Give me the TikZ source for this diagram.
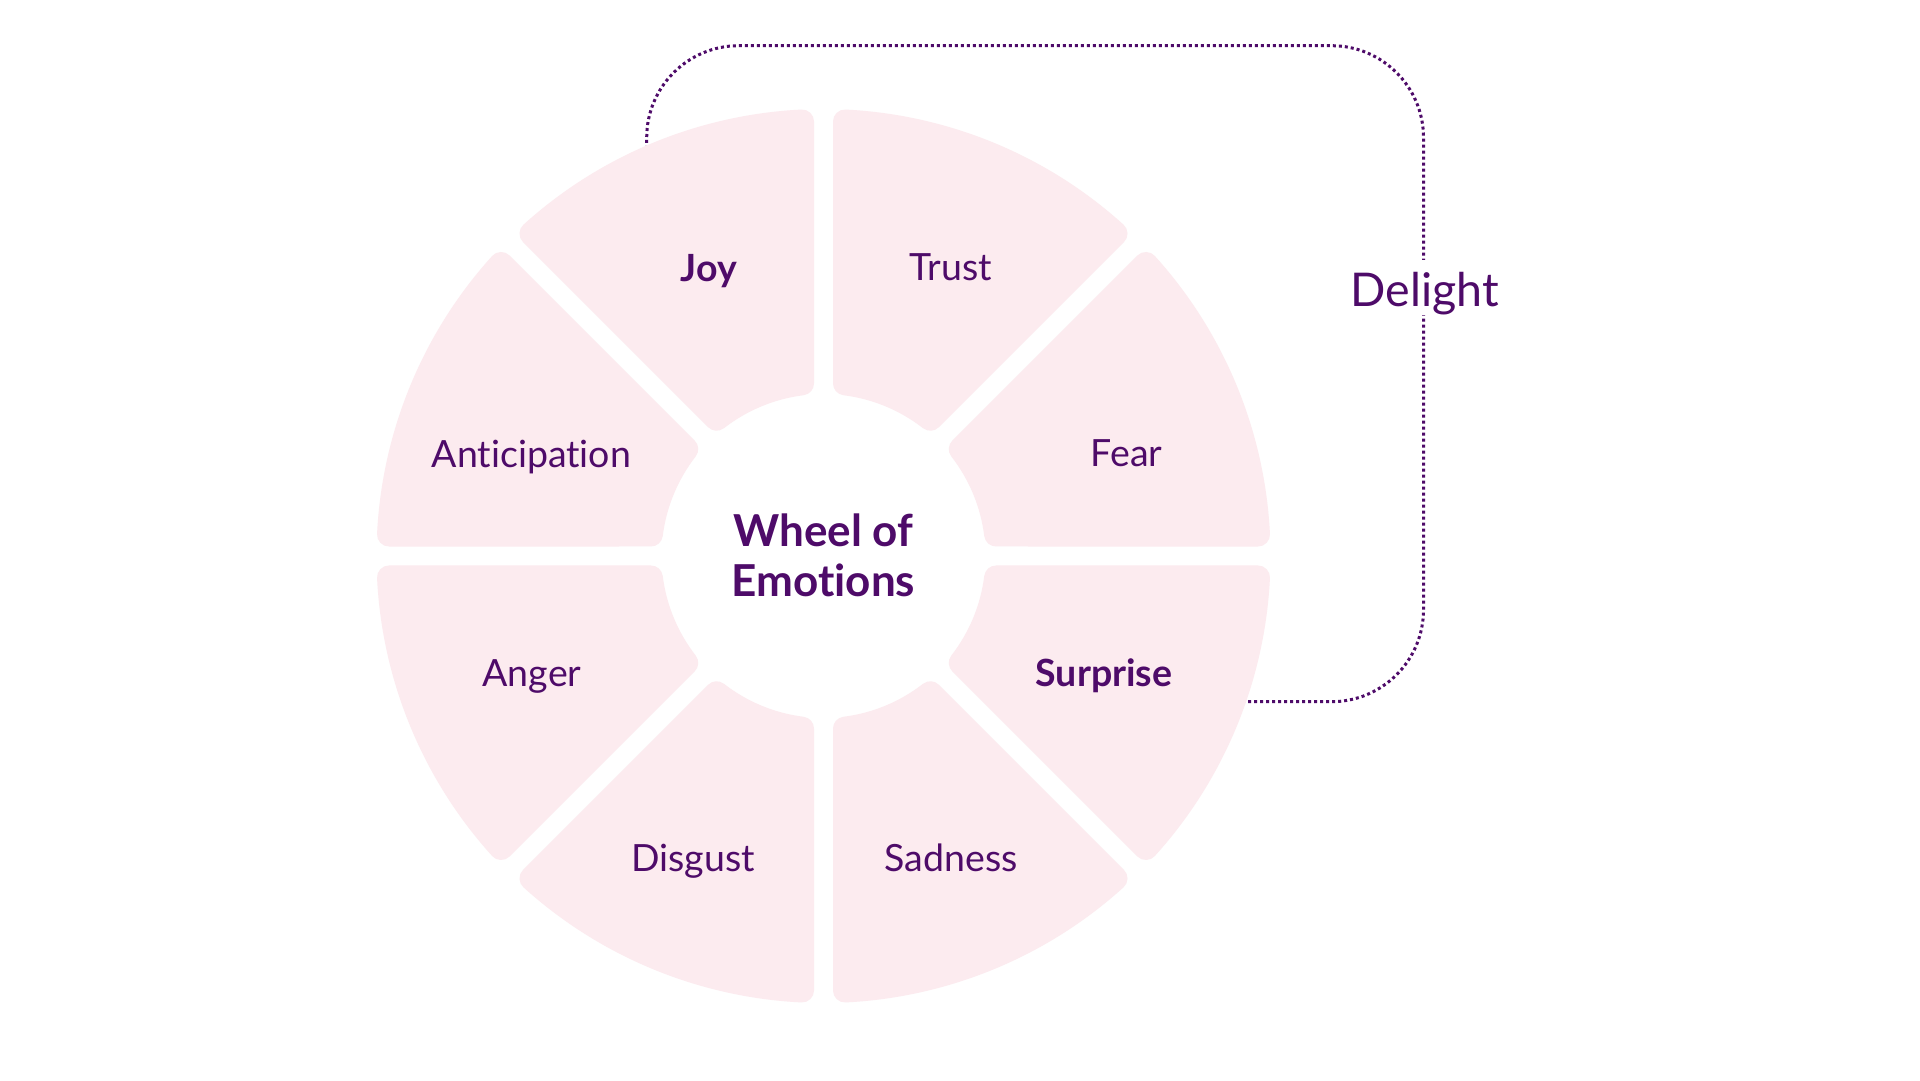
\documentclass[tikz,border=0pt]{standalone}
\usepackage{fontspec}
\setmainfont{Lato}[Ligatures={TeX,NoCommon}]
\definecolor{wpurple}{HTML}{4E0B69}
\definecolor{wpink}{HTML}{FCEBEF}
\begin{document}
\begin{tikzpicture}[x=1pt,y=1pt,
  seg/.style={fill=wpink, draw=wpink, line width=24pt, line join=round},
  lab/.style={text=wpurple, font=\fontsize{37.5}{45}\selectfont, anchor=base, inner sep=0pt},
  labb/.style={text=wpurple, font=\fontsize{37.5}{45}\selectfont\bfseries, anchor=base, inner sep=0pt},
  dotline/.style={draw=wpurple, line width=3pt, dash pattern=on 3pt off 3pt, rounded corners=92pt}]
\fill[white] (0,0) rectangle (1920,1080);
\useasboundingbox (0,0) rectangle (1920,1080);

\def\wro{435}
\def\wri{174}
\def\wdo{2.833}
\def\wdi{7.098}

\coordinate (C) at (823.5,524);
\coordinate (dA) at (646.7,925);
\coordinate (tr) at (1423.5,1034.3);
\coordinate (dB) at (1240,378.3);

% connector (drawn behind the wheel)
\draw[dotline] (dA) |- (tr) |- (dB);

% wheel segments
\begin{scope}[shift={(C)}]
\foreach \a in {0,45,...,315}{
  \path[seg] ({\a+\wdi}:\wri) -- ({\a+\wdo}:\wro)
    arc[start angle={\a+\wdo}, end angle={\a+45-\wdo}, radius=\wro]
    -- ({\a+45-\wdi}:\wri)
    arc[start angle={\a+45-\wdi}, end angle={\a+\wdi}, radius=\wri] -- cycle;
}
\end{scope}

% labels
\node[labb] (joy) at (709,798.3) {Joy};
\node[lab] (trust) at (950.8,799) {Trust};
\node[lab] (antic) at (531.4,612.3) {Anticipation};
\node[lab] (fear) at (1126.7,613.3) {Fear};
\node[lab] (anger) at (532,393.3) {Anger};
\node[labb] (surprise) at (1104,393.3) {Surprise};
\node[lab] (disgust) at (693.3,208.3) {Disgust};
\node[lab] (sadness) at (951,208.3) {Sadness};
\node[text=wpurple, font=\fontsize{44}{50}\selectfont\bfseries, align=center, inner sep=0pt, anchor=center] (title) at (823.5,524.3) {Wheel of\\Emotions};
\node[text=wpurple, font=\fontsize{46.5}{55}\selectfont, fill=white, anchor=base, inner xsep=3pt, inner ysep=0pt, text height=47pt] (delight) at (1424.7,773) {Delight};
\end{tikzpicture}
\end{document}
